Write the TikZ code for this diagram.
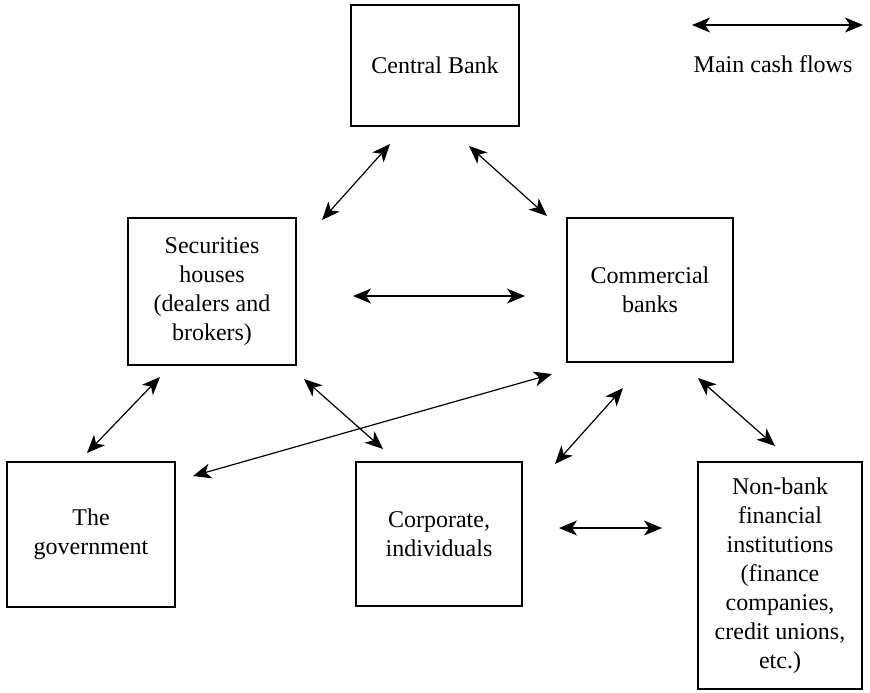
\documentclass[tikz,border=0pt]{standalone}
\usepackage{fontspec}
\setmainfont{Liberation Serif}
\usetikzlibrary{arrows.meta}
\begin{document}
\begin{tikzpicture}
  [x=0.5pt,y=-0.5pt,every node/.style={draw,line width=1.3pt,rectangle,align=center,inner sep=0pt,font=\fontsize{12}{14.5}\selectfont}]
  \tikzstyle{flow} = [line width=0.6pt,{Stealth[length=9pt,width=7.5pt,inset=2.5pt]}-{Stealth[length=9pt,width=7.5pt,inset=2.5pt]}]
  \useasboundingbox (0,0) rectangle (870,692);
  \node[minimum width=84pt,minimum height=60.5pt] (cb) at (435,65.5) {Central Bank};
  \node[minimum width=84pt,minimum height=73.5pt] (sec) at (212,291.5) {Securities\\houses\\(dealers and\\brokers)};
  \node[minimum width=83pt,minimum height=72pt] (com) at (650,290) {Commercial\\banks};
  \node[minimum width=84pt,minimum height=72.5pt] (gov) at (91,534.5) {The\\government};
  \node[minimum width=83pt,minimum height=72pt] (corp) at (439,534) {Corporate,\\individuals};
  \node[minimum width=82pt,minimum height=113.5pt] (nbfi) at (780,575.5) {Non-bank\\financial\\institutions\\(finance\\companies,\\credit unions,\\etc.)};
  \node[draw=none] (key) at (773,64) {Main cash flows};
  \foreach \name/\x/\y in {cb-s/390/144,s-cb/322/220,cb-c/469/146,c-cb/547/216,
    s-c/353/296,c-s/525/296,s-g/160/377,g-s/87/453,s-p/304/379,p-s/383/449,
    c-g/552/374,g-c/193/476,c-p/623/388,p-c/555/464,c-n/698/378,n-c/775/446,
    p-n/559/528,n-p/662/528,key-l/692/25,key-r/863/25}
   \coordinate (\name) at (\x,\y);
  \foreach \source/\dest in {cb-s/s-cb,cb-c/c-cb,s-c/c-s,s-g/g-s,s-p/p-s,c-g/g-c,c-p/p-c,c-n/n-c,p-n/n-p,key-l/key-r}
   \draw[flow] (\source) -- (\dest);
\end{tikzpicture}
\end{document}
